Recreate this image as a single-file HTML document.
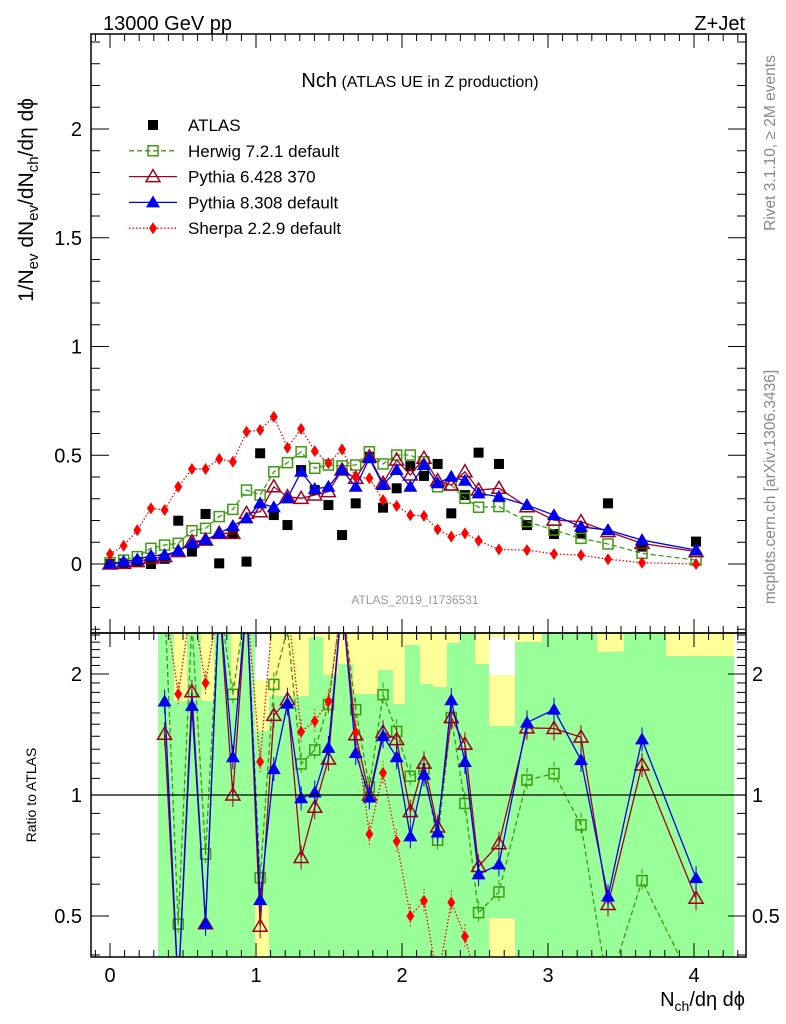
<!DOCTYPE html>
<html><head><meta charset="utf-8"><style>
html,body{margin:0;padding:0;background:#fff;overflow:hidden;width:786px;height:1024px}
svg{display:block}
svg text{font-family:"Liberation Sans",sans-serif}
</style></head><body>
<svg id="c" width="786" height="1024" viewBox="0 0 786 1024" xmlns="http://www.w3.org/2000/svg" overflow="hidden">
<defs>
<clipPath id="cm"><rect x="91" y="34" width="655" height="599"/></clipPath>
<clipPath id="cr"><rect x="91" y="633" width="655" height="324"/></clipPath>
</defs>
<g id="bands" clip-path="url(#cr)"></g>
<g id="main" clip-path="url(#cm)"></g>
<g id="ratio" clip-path="url(#cr)"></g>
<g id="axes"></g>
<text x="103" y="30" font-size="20">13000 GeV pp</text>
<text x="745" y="30" font-size="20" text-anchor="end">Z+Jet</text>
<text x="420" y="87" text-anchor="middle"><tspan font-size="20">Nch</tspan><tspan font-size="16"> (ATLAS UE in Z production)</tspan></text>
<text x="415" y="604" font-size="12" fill="#999" text-anchor="middle">ATLAS_2019_I1736531</text>
<text transform="translate(775,143) rotate(-90)" font-size="15.5" fill="#888" text-anchor="middle">Rivet 3.1.10, ≥ 2M events</text>
<text transform="translate(775,487) rotate(-90)" font-size="15.5" fill="#888" text-anchor="middle">mcplots.cern.ch [arXiv:1306.3436]</text>
<text transform="translate(33,200) rotate(-90)" font-size="21" text-anchor="middle">1/N<tspan font-size="15" dy="5">ev</tspan><tspan dy="-5"> dN</tspan><tspan font-size="15" dy="5">ev</tspan><tspan dy="-5">/dN</tspan><tspan font-size="15" dy="5">ch</tspan><tspan dy="-5">/dη dϕ</tspan></text>
<text transform="translate(36,795) rotate(-90)" font-size="14" text-anchor="middle">Ratio to ATLAS</text>
<text x="745" y="1006" font-size="20" text-anchor="end">N<tspan font-size="14" dy="5">ch</tspan><tspan dy="-5">/dη dϕ</tspan></text>
<g id="legend"></g>
</svg>
<script>
const xIdx=[0,1,2,3,4,5,6,7,8,9,10,11,12,13,14,15,16,17,18,19,20,21,22,23,24,25,26,27];
const xTail=[2.664,2.856,3.041,3.226,3.411,3.644,4.014];
const atlas=[0,0.003,0.01,0,0.024,0.199,0.057,0.23,0.003,0.141,0.011,0.509,0.225,0.179,0.432,0.34,0.271,0.133,0.279,0.493,0.259,0.348,0.45,0.405,0.46,0.233,0.317,0.512,0.46,0.179,0.138,0.14,0.279,0.08,0.103];
const herwig=[0.006,0.018,0.034,0.072,0.087,0.095,0.153,0.164,0.218,0.251,0.34,0.317,0.424,0.466,0.516,0.44,0.455,0.451,0.455,0.516,0.46,0.501,0.501,0.47,0.355,0.363,0.302,0.261,0.264,0.195,0.156,0.118,0.092,0.049,0.018];
const pythia6=[0,0.003,0.011,0.026,0.034,0.057,0.103,0.11,0.141,0.141,0.233,0.24,0.355,0.309,0.302,0.317,0.333,0.432,0.394,0.493,0.371,0.478,0.409,0.486,0.383,0.363,0.424,0.34,0.348,0.263,0.202,0.195,0.149,0.095,0.057];
const pythia8=[0.002,0.011,0.021,0.038,0.041,0.06,0.095,0.11,0.141,0.175,0.21,0.279,0.261,0.302,0.424,0.345,0.355,0.432,0.355,0.486,0.363,0.432,0.355,0.455,0.371,0.401,0.383,0.325,0.309,0.271,0.225,0.171,0.156,0.11,0.064];
const sherpa=[0.046,0.084,0.156,0.256,0.248,0.355,0.437,0.437,0.483,0.47,0.608,0.616,0.677,0.535,0.621,0.519,0.463,0.527,0.399,0.394,0.294,0.267,0.225,0.221,0.159,0.126,0.141,0.107,0.067,0.064,0.046,0.041,0.022,0.006,0];
const xTicks=[0,1,2,3,4];
const yTicks=[0,0.5,1,1.5,2];
const yTickLabels=["0","0.5","1","1.5","2"];
const rTicks=[0.5,1,2];
const rTickLabels=["0.5","1","2"];
const xs=xIdx.map(i=>i*0.0935).concat(xTail);
const NS="http://www.w3.org/2000/svg";
const X=v=>110+v*146, Ym=v=>564-v*217.5, Yr=r=>795-Math.log10(r)*402;
function el(tag,attrs,parent){const e=document.createElementNS(NS,tag);for(const k in attrs)e.setAttribute(k,attrs[k]);parent.appendChild(e);return e;}
const main=document.getElementById('main'),ratio=document.getElementById('ratio'),axes=document.getElementById('axes'),bands=document.getElementById('bands'),legend=document.getElementById('legend');
const bg=el('rect',{x:158,y:633,width:576,height:324,fill:'#99ff99'},bands);


const yel=[[174,187,701],[201,214,701],[231,240,697],[255,269,731],[269,309,696],[309,323,637],[323,338,675],[338,353,664],[353,378,694],[378,393,670],[393,405,704],[405,420,645],[420,433,684],[433,447,687],[447,460,643],[475,489,664],[489,515,726],[515,542,642],[597,624,652],[666,734,656]];
yel.forEach(b=>{const r=el('rect',{x:b[0],y:633,width:b[1]-b[0],height:b[2]-633,fill:'#ffff99'},bands);

});
[[255,269,633,680],[489,515,637,675]].forEach(b=>{const r=el('rect',{x:b[0],y:b[2],width:b[1]-b[0],height:b[3]-b[2],fill:'#fff'},bands);

});
[[255,269,906,957],[489,515,918,957]].forEach(b=>{const r=el('rect',{x:b[0],y:b[2],width:b[1]-b[0],height:b[3]-b[2],fill:'#ffff99'},bands);

});
function marker(g,type,cx,cy,col){
 let m;
 if(type==='sq')m=el('rect',{x:cx-5,y:cy-5,width:10,height:10,fill:'#000'},g);
 else if(type==='osq')m=el('rect',{x:cx-5,y:cy-5,width:10,height:10,fill:'none',stroke:col,'stroke-width':1.5},g);
 else if(type==='otri')m=el('path',{d:`M${cx},${cy-7}L${cx+7},${cy+5}L${cx-7},${cy+5}Z`,fill:'none',stroke:col,'stroke-width':1.5},g);
 else if(type==='tri')m=el('path',{d:`M${cx},${cy-7}L${cx+7},${cy+5}L${cx-7},${cy+5}Z`,fill:col},g);
 else m=el('path',{d:`M${cx},${cy-6}L${cx+4},${cy}L${cx},${cy+6}L${cx-4},${cy}Z`,fill:col},g);
 return m;
}
const series=[
 {name:'herwig',vals:herwig,col:'#3c9a10',dash:'5,3',type:'osq',label:'Herwig 7.2.1 default'},
 {name:'pythia6',vals:pythia6,col:'#a00020',dash:'',type:'otri',label:'Pythia 6.428 370'},
 {name:'pythia8',vals:pythia8,col:'#0000ee',dash:'',type:'tri',label:'Pythia 8.308 default'},
 {name:'sherpa',vals:sherpa,col:'#ff0000',dash:'1.5,2',type:'dia',label:'Sherpa 2.2.9 default'}];
const ga=el('g',{},main);


atlas.forEach((v,i)=>{const m=marker(ga,'sq',X(xs[i]),Ym(v));

});
series.forEach(s=>{
 const g=el('g',{},main);
 
 
 const ln=el('polyline',{points:s.vals.map((v,i)=>X(xs[i])+','+Ym(v)).join(' '),fill:'none',stroke:s.col,'stroke-width':1.3,'stroke-dasharray':s.dash},g);
 
 
 s.vals.forEach((v,i)=>{const m=marker(g,s.type,X(xs[i]),Ym(v),s.col);
 
 });
 const gr=el('g',{},ratio);
 
 
 const pts=[];
 s.vals.forEach((v,i)=>{if(i<4||atlas[i]<=0)return;const r=Math.max(v/atlas[i],0.05);pts.push([X(xs[i]),Math.max(Math.min(Yr(r),990),600)]);});
 const rl=el('polyline',{points:pts.map(p=>p[0]+','+p[1]).join(' '),fill:'none',stroke:s.col,'stroke-width':1.3,'stroke-dasharray':s.dash},gr);
 
 
 pts.forEach(p=>{el('line',{x1:p[0],x2:p[0],y1:p[1]-12,y2:p[1]+12,stroke:s.col,'stroke-width':1,'stroke-dasharray':s.dash},gr);
 const m=marker(gr,s.type,p[0],p[1],s.col);
 
 });
});
el('line',{x1:91,x2:746,y1:Yr(1),y2:Yr(1),stroke:'#000','stroke-width':1.2},ratio);
[[34,633],[633,957]].forEach((f,k)=>{const r=el('rect',{x:91,y:f[0],width:655,height:f[1]-f[0],fill:'none',stroke:'#000','stroke-width':1.5},axes);

});
function tick(x1,y1,x2,y2){el('line',{x1,y1,x2,y2,stroke:'#000','stroke-width':1},axes);}
for(let t=-0.1;t<=4.35;t+=0.1){const x=X(t);if(x<92||x>745)continue;const maj=Math.abs(t-Math.round(t))<0.01;const L=maj?14:7;
 tick(x,34,x,34+L);tick(x,633,x,633-L);tick(x,633,x,633+L);tick(x,957,x,957-L);}
for(let t=-0.3;t<=2.44;t+=0.1){const y=Ym(t);if(y<35||y>632)continue;const maj=Math.abs(t*2-Math.round(t*2))<0.01;const L=maj?18:9;tick(91,y,91+L,y);tick(746,y,746-L,y);}
[0.4,0.5,0.6,0.7,0.8,0.9,1.1,1.2,1.3,1.4,1.5,1.6,1.7,1.8,1.9,2,2.1,2.2,2.3,2.4,2.5].forEach(r=>{const y=Yr(r);if(y<634||y>956)return;const maj=rTicks.includes(r);const L=maj?18:9;tick(91,y,91+L,y);tick(746,y,746-L,y);});
xTicks.forEach(t=>{const e=el('text',{x:X(t),y:982,'font-size':20,'text-anchor':'middle'},axes);e.textContent=t;

});
yTicks.forEach((t,i)=>{const e=el('text',{x:82,y:Ym(t)+7,'font-size':20,'text-anchor':'end'},axes);e.textContent=yTickLabels[i];

});
rTicks.forEach((t,i)=>{const e=el('text',{x:82,y:Yr(t)+7,'font-size':20,'text-anchor':'end'},axes);e.textContent=rTickLabels[i];


const e2=el('text',{x:752,y:Yr(t)+7,'font-size':20},axes);e2.textContent=rTickLabels[i];

});
const rows=[{label:'ATLAS',type:'sq',col:'#000',dash:null}].concat(series);
rows.forEach((s,k)=>{const y=125+k*25.8;const g=el('g',{},legend);


if(s.dash!==null&&s.dash!==undefined)el('line',{x1:129,x2:177,y1:y,y2:y,stroke:s.col,'stroke-width':1.3,'stroke-dasharray':s.dash},g);
marker(g,s.type,153,y,s.col);
const t=el('text',{x:188,y:y+6,'font-size':17},g);t.textContent=s.label;});
</script>
</body></html>
